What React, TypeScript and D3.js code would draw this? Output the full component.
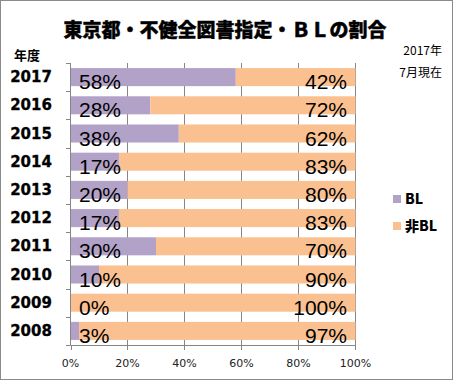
import React from "react";
import * as d3 from "d3";

const years = ["2017", "2016", "2015", "2014", "2013", "2012", "2011", "2010", "2009", "2008"];
const blValues = [58, 28, 38, 17, 20, 17, 30, 10, 0, 3];
const nonBlValues = [42, 72, 62, 83, 80, 83, 70, 90, 100, 97];
const xTicks = [0, 20, 40, 60, 80, 100];
const seriesNames = ["BL", "非BL"];
const colors = ["#B3A2C7", "#FAC090"];

const W = 453;
const H = 380;

export default function App() {
  const x = d3.scaleLinear().domain([0, 100]).range([70.5, 355.5]);
  const y = d3.scaleBand().domain(years).range([63, 345]).paddingInner(0.36).paddingOuter(0.18);
  const band = d3.scaleBand().domain(years).range([63, 345]);
  const jp = "'Noto Sans CJK JP', sans-serif";
  const num = "'DejaVu Sans', sans-serif";
  const lab = "'Liberation Sans', sans-serif";
  return (
    <svg width={W} height={H} style={{ position: "fixed", left: 0, top: 0, background: "#fff" }}>
      <rect x={0.5} y={0.5} width={W - 1} height={H - 1} fill="#fff" stroke="#8a8a8a" />
      <text x={225} y={37} textAnchor="middle" fontFamily={jp} fontWeight={900} fontSize={19} fill="#000" stroke="#000" strokeWidth={0.4}>
        東京都・不健全図書指定・ＢＬの割合
      </text>
      <text x={27} y={60} textAnchor="middle" fontFamily={jp} fontWeight={700} fontSize={13}>年度</text>
      <text x={442} y={55} textAnchor="end" fontFamily={jp} fontSize={12}>2017年</text>
      <text x={442} y={77} textAnchor="end" fontFamily={jp} fontSize={12}>7月現在</text>
      {xTicks.slice(1).map((t) => (
        <line key={"g" + t} x1={Math.round(x(t)) - 0.5} x2={Math.round(x(t)) - 0.5} y1={63} y2={349} stroke="#868686" />
      ))}
      {years.map((yr, i) => {
        const y0 = y(yr)!;
        const h = y.bandwidth();
        return (
          <g key={yr}>
            <rect x={x(0)} y={y0} width={x(blValues[i]) - x(0)} height={h} fill={colors[0]} />
            <rect x={x(blValues[i])} y={y0} width={x(100) - x(blValues[i])} height={h} fill={colors[1]} />
            <text x={79} y={y0 + h / 2 + 12} fontFamily={lab} fontSize={21} fill="#000">
              {blValues[i]}%
            </text>
            <text x={347} y={y0 + h / 2 + 12} textAnchor="end" fontFamily={lab} fontSize={21} fill="#000">
              {nonBlValues[i]}%
            </text>
            <text x={31} y={band(yr)! + band.bandwidth() / 2 + 5} textAnchor="middle" fontFamily={num} fontWeight={700} fontSize={15} fill="#000" stroke="#000" strokeWidth={0.3}>
              {yr}
            </text>
          </g>
        );
      })}
      <line x1={70.5} x2={70.5} y1={63} y2={345} stroke="#868686" />
      {[...years.map((yr) => band(yr)!), 345].map((v, i) => (
        <line key={"yt" + i} x1={66} x2={70.5} y1={Math.round(v) + 0.5} y2={Math.round(v) + 0.5} stroke="#868686" />
      ))}
      <line x1={70.5} x2={355.5} y1={345.5} y2={345.5} stroke="#868686" />
      {xTicks.map((t) => (
        <g key={"xt" + t}>
          <line x1={Math.round(x(t)) - 0.5 + (t === 0 ? 1 : 0)} x2={Math.round(x(t)) - 0.5 + (t === 0 ? 1 : 0)} y1={345} y2={350} stroke="#868686" />
          <text x={x(t)} y={367} textAnchor="middle" fontFamily={num} fontSize={11} fill="#222">{t}%</text>
        </g>
      ))}
      {seriesNames.map((s, i) => (
        <g key={s}>
          <rect x={393} y={195 + i * 27} width={8} height={8} fill={colors[i]} />
          <text x={405} y={204 + i * 27} fontFamily={jp} fontWeight={900} fontSize={14} fill="#000">{s}</text>
        </g>
      ))}
    </svg>
  );
}
